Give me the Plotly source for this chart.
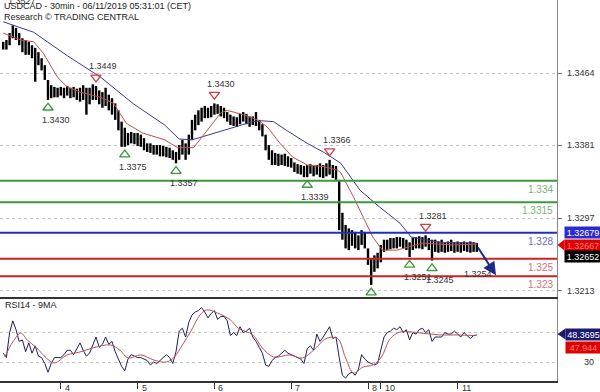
import plotly.graph_objects as go

# ---------------- data ----------------
day_ticks = [37, 85, 133, 181, 229, 237, 285]          # 30-min bar index of day start
day_labels = ["4", "5", "6", "7", "8", "10", "11"]
price_ticks = [1.3464, 1.3381, 1.3297, 1.3213]
rsi_ticks = [30, 50]

bar_high = [1.3500, 1.3502, 1.3510, 1.3519, 1.3516, 1.3510, 1.3504, 1.3502, 1.3500, 1.3496,
            1.3493, 1.3488, 1.3481, 1.3473, 1.3456, 1.3450, 1.3448, 1.3447, 1.3448, 1.3447,
            1.3449, 1.3447, 1.3448, 1.3446, 1.3447, 1.3450, 1.3447, 1.3447, 1.3451, 1.3449,
            1.3444, 1.3442, 1.3447, 1.3439, 1.3435, 1.3429, 1.3421, 1.3408, 1.3401, 1.3395,
            1.3396, 1.3395, 1.3395, 1.3393, 1.3389, 1.3383, 1.3383, 1.3381, 1.3381, 1.3381,
            1.3380, 1.3379, 1.3378, 1.3375, 1.3373, 1.3381, 1.3387, 1.3383, 1.3393, 1.3410,
            1.3416, 1.3421, 1.3424, 1.3426, 1.3424, 1.3426, 1.3429, 1.3428, 1.3426, 1.3424,
            1.3419, 1.3416, 1.3414, 1.3413, 1.3417, 1.3419, 1.3417, 1.3414, 1.3414, 1.3419,
            1.3410, 1.3405, 1.3393, 1.3381, 1.3375, 1.3372, 1.3371, 1.3370, 1.3371, 1.3368,
            1.3366, 1.3361, 1.3359, 1.3358, 1.3357, 1.3358, 1.3359, 1.3357, 1.3358, 1.3360,
            1.3358, 1.3360, 1.3364, 1.3358, 1.3357, 1.3341, 1.3303, 1.3289, 1.3285, 1.3283,
            1.3281, 1.3277, 1.3283, 1.3281, 1.3262, 1.3251, 1.3254, 1.3257, 1.3266, 1.3272,
            1.3272, 1.3274, 1.3274, 1.3275, 1.3275, 1.3274, 1.3272, 1.3269, 1.3274, 1.3275,
            1.3276, 1.3275, 1.3277, 1.3274, 1.3272, 1.3272, 1.3270, 1.3272, 1.3269, 1.3270,
            1.3272, 1.3269, 1.3270, 1.3269, 1.3270, 1.3269, 1.3270, 1.3269, 1.3268]
bar_low = [1.3491, 1.3491, 1.3496, 1.3504, 1.3502, 1.3496, 1.3488, 1.3485, 1.3485, 1.3481,
           1.3454, 1.3473, 1.3467, 1.3456, 1.3433, 1.3435, 1.3436, 1.3436, 1.3438, 1.3435,
           1.3438, 1.3435, 1.3436, 1.3433, 1.3431, 1.3433, 1.3416, 1.3428, 1.3433, 1.3433,
           1.3428, 1.3424, 1.3426, 1.3421, 1.3416, 1.3410, 1.3398, 1.3379, 1.3379, 1.3381,
           1.3383, 1.3382, 1.3380, 1.3379, 1.3375, 1.3373, 1.3372, 1.3370, 1.3370, 1.3368,
           1.3368, 1.3367, 1.3366, 1.3364, 1.3360, 1.3364, 1.3370, 1.3364, 1.3370, 1.3387,
           1.3398, 1.3404, 1.3408, 1.3412, 1.3412, 1.3413, 1.3416, 1.3417, 1.3414, 1.3412,
           1.3408, 1.3404, 1.3403, 1.3402, 1.3405, 1.3408, 1.3405, 1.3402, 1.3404, 1.3403,
           1.3398, 1.3391, 1.3375, 1.3364, 1.3358, 1.3358, 1.3357, 1.3358, 1.3357, 1.3356,
           1.3355, 1.3350, 1.3348, 1.3347, 1.3344, 1.3344, 1.3348, 1.3345, 1.3347, 1.3344,
           1.3343, 1.3345, 1.3347, 1.3343, 1.3341, 1.3283, 1.3272, 1.3262, 1.3260, 1.3265,
           1.3262, 1.3260, 1.3266, 1.3262, 1.3243, 1.3220, 1.3235, 1.3239, 1.3246, 1.3258,
           1.3260, 1.3261, 1.3262, 1.3262, 1.3264, 1.3262, 1.3260, 1.3252, 1.3260, 1.3262,
           1.3262, 1.3261, 1.3264, 1.3260, 1.3248, 1.3258, 1.3257, 1.3258, 1.3257, 1.3258,
           1.3259, 1.3257, 1.3258, 1.3257, 1.3259, 1.3258, 1.3257, 1.3258, 1.3258]

ma_fast_x = [1, 12, 20, 26, 35, 41, 49, 62, 70, 78, 88, 102, 110, 120, 137, 141, 151, 160, 166, 174,
             182, 191, 202, 210, 212, 220, 226, 232, 238, 247, 255, 263, 282, 297]
ma_fast_y = [1.3510, 1.3502, 1.3500, 1.3487, 1.3459, 1.3448, 1.3442, 1.3436, 1.3429, 1.3406,
             1.3395, 1.3387, 1.3378, 1.3378, 1.3418, 1.3421, 1.3416, 1.3410, 1.3402, 1.3383,
             1.3367, 1.3358, 1.3356, 1.3352, 1.3349, 1.3321, 1.3298, 1.3275, 1.3260, 1.3260,
             1.3264, 1.3268, 1.3266, 1.32667]
ma_slow_x = [1, 20, 41, 62, 82, 102, 111, 119, 157, 162, 170, 178, 191, 202, 212, 224, 236, 249,
             256, 274, 297]
ma_slow_y = [1.3523, 1.3511, 1.3484, 1.3459, 1.3429, 1.3404, 1.3388, 1.3387, 1.3408, 1.3409,
             1.3408, 1.3398, 1.3383, 1.3372, 1.3360, 1.3329, 1.3310, 1.3291, 1.3275, 1.3269,
             1.32679]

rsi = [36, 33, 50, 58, 52, 44, 45, 37, 43, 36,
       41, 34, 33, 29, 23, 29, 33, 33, 33, 35,
       38, 38, 35, 39, 43, 38, 34, 36, 42, 47,
       40, 42, 47, 42, 44, 37, 32, 27, 24, 32,
       35, 34, 33, 33, 32, 31, 28, 30, 29, 31,
       33, 35, 33, 29, 37, 51, 53, 47, 57, 62,
       64, 65, 67, 64, 60, 63, 65, 59, 61, 61,
       58, 48, 50, 48, 54, 50, 51, 53, 47, 44,
       40, 36, 28, 27, 31, 33, 34, 36, 38, 36,
       35, 34, 33, 32, 29, 39, 41, 38, 49, 44,
       47, 51, 54, 46, 47, 33, 21, 19, 22, 23,
       21, 25, 35, 32, 30, 29, 28, 29, 39, 47,
       50, 51, 53, 52, 54, 50, 52, 45, 50, 49,
       52, 53, 50, 52, 44, 47, 47, 47, 50, 49,
       49, 51, 49, 47, 50, 48, 46, 48, 48.3695]
rsi_ma_x = [2, 7, 12, 16, 22, 28, 33, 41, 49, 57, 68, 74, 79, 87, 95, 103, 108, 113, 118, 124,
            128, 135, 143, 148, 157, 163, 170, 180, 188, 195, 203, 210, 215, 220, 226, 232, 237,
            243, 249, 262, 274, 285, 296]
rsi_ma_y = [33.4, 43.6, 49.7, 45, 39.5, 32.7, 29.3, 34.8, 36.8, 39.5, 41.6, 38, 32.7, 34.8, 31.4,
            30, 33.4, 41.6, 50.4, 62, 65.4, 63.3, 58.6, 53, 48.4, 39.5, 33.4, 34.8, 32.7, 38,
            46, 46, 32.7, 22.5, 26.6, 28, 32.7, 46, 50.4, 49.7, 48.4, 48.4, 47.944]

pivot_low_x = [29, 77, 109, 191, 231, 255, 269]
pivot_low_p = [1.3433, 1.3379, 1.3360, 1.3344, 1.3220, 1.3252, 1.3248]
pivot_low_txt = ["1.3430", "1.3375", "1.3357", "1.3339", "", "1.3251", "1.3245"]
pivot_high_x = [59, 133, 205, 265]
pivot_high_p = [1.3449, 1.3429, 1.3364, 1.3277]
pivot_high_txt = ["1.3449", "1.3430", "1.3366", "1.3281"]
top_label = "1.3527"

levels_green = [1.334, 1.3315]
levels_blue = [1.328]
levels_red = [1.325, 1.323]

forecast_from = (297, 1.3265)
forecast_to = (309, 1.3231)
forecast_txt = "1.3254"

last_close = 1.32652
ma_slow_last = 1.32679
ma_fast_last = 1.32667
rsi_last = 48.3695
rsi_ma_last = 47.944

# ---------------- geometry helpers ----------------
PW, PH = 557, 381
def px_x(x):
    return x / PW
def px_y(y):
    return (PH - y) / PH

X_RANGE = [-1, 347.125]
P_RANGE = [1.32037, 1.35481]
R_RANGE = [17.07, 72.86]
NARROW = "Liberation Sans Narrow, Arial Narrow, Liberation Sans, Arial, sans-serif"
REG = "Liberation Sans, Arial, sans-serif"

bx = [2 * j + 1 for j in range(len(bar_high))]
seg_x, seg_y = [], []
for x, h, l in zip(bx, bar_high, bar_low):
    seg_x += [x, x, None]
    seg_y += [l, h, None]

fig = go.Figure()
fig.add_trace(go.Scatter(x=seg_x, y=seg_y, mode="lines", line=dict(color="#000000", width=2.4),
                         hoverinfo="skip", xaxis="x", yaxis="y"))
fig.add_trace(go.Scatter(x=ma_slow_x, y=ma_slow_y, mode="lines", line=dict(color="#3b3b8c", width=1),
                         xaxis="x", yaxis="y"))
fig.add_trace(go.Scatter(x=ma_fast_x, y=ma_fast_y, mode="lines", line=dict(color="#c0504d", width=1),
                         xaxis="x", yaxis="y"))
fig.add_trace(go.Scatter(x=pivot_low_x, y=[p - 0.0009 for p in pivot_low_p], mode="markers",
                         marker=dict(symbol="triangle-up-open", size=9, color="#3c9a3c",
                                     line=dict(width=1.3, color="#3c9a3c")),
                         xaxis="x", yaxis="y"))
fig.add_trace(go.Scatter(x=pivot_high_x, y=[p + 0.0010 for p in pivot_high_p], mode="markers",
                         marker=dict(symbol="triangle-down-open", size=9, color="#c84444",
                                     line=dict(width=1.3, color="#c84444")),
                         xaxis="x", yaxis="y"))
fig.add_trace(go.Scatter(x=bx, y=rsi, mode="lines", line=dict(color="#1e1e5a", width=1),
                         xaxis="x2", yaxis="y2"))
fig.add_trace(go.Scatter(x=rsi_ma_x, y=rsi_ma_y, mode="lines",
                         line=dict(color="#b85555", width=1, shape="spline"),
                         xaxis="x2", yaxis="y2"))

shapes = []
ann = []

def level(v, lc, tc):
    shapes.append(dict(type="line", xref="paper", x0=0, x1=1, yref="y", y0=v, y1=v,
                       line=dict(color=lc, width=2)))
    ann.append(dict(xref="paper", x=1, xanchor="right", xshift=-2, yref="y", y=v,
                    yanchor="top", yshift=-1, text=f"{v:g}", showarrow=False,
                    font=dict(family=NARROW, size=10, color=tc)))

for v in levels_green:
    level(v, "#3c9a3c", "#78b478")
for v in levels_blue:
    level(v, "#1f2fb8", "#6a6ac0")
for v in levels_red:
    level(v, "#cc2222", "#d87070")

for x, p, t in zip(pivot_low_x, pivot_low_p, pivot_low_txt):
    if t:
        ann.append(dict(x=x, y=p - 0.0009, xref="x", yref="y", text=t, showarrow=False,
                        xshift=8, yshift=-12, font=dict(family=NARROW, size=9, color="#333")))
for x, p, t in zip(pivot_high_x, pivot_high_p, pivot_high_txt):
    ann.append(dict(x=x, y=p + 0.0010, xref="x", yref="y", text=t, showarrow=False,
                    xshift=7, yshift=11, font=dict(family=NARROW, size=9, color="#333")))
ann.append(dict(x=13, y=max(bar_high), xref="x", yref="y", text=top_label, showarrow=False,
                yshift=24, font=dict(family=NARROW, size=9, color="#333")))

# forecast arrow
ann.append(dict(x=forecast_to[0], y=forecast_to[1], ax=forecast_from[0], ay=forecast_from[1],
                xref="x", yref="y", axref="x", ayref="y", text="", showarrow=True,
                arrowhead=2, arrowsize=1.3, arrowwidth=2, arrowcolor="#1a2a8a"))
ann.append(dict(x=forecast_to[0], y=forecast_to[1], xref="x", yref="y", text=forecast_txt,
                showarrow=False, xshift=-18, yshift=1,
                font=dict(family=NARROW, size=9, color="#333")))

# titles
ann.append(dict(xref="paper", yref="paper", x=px_x(2), y=px_y(6), xanchor="left", yanchor="middle",
                text="USDCAD - 30min - 06/11/2019 05:31:01 (CET)", showarrow=False,
                font=dict(family=NARROW, size=9, color="#222")))
ann.append(dict(xref="paper", yref="paper", x=px_x(2), y=px_y(17), xanchor="left", yanchor="middle",
                text="Research © TRADING CENTRAL", showarrow=False,
                font=dict(family=NARROW, size=9, color="#222")))
ann.append(dict(xref="paper", yref="paper", x=px_x(3), y=px_y(305), xanchor="left", yanchor="middle",
                text="RSI14 - 9MA", showarrow=False,
                font=dict(family=NARROW, size=9, color="#222")))

# right axis labels
for v in price_ticks:
    ann.append(dict(xref="paper", x=px_x(597), xanchor="right", yref="y", y=v, yanchor="middle",
                    text=f"{v:.4f}", showarrow=False, font=dict(family=REG, size=9, color="#333")))
ann.append(dict(xref="paper", x=px_x(596), xanchor="right", yref="y2", y=30, yanchor="middle",
                text="30", showarrow=False, font=dict(family=REG, size=9, color="#333")))

# day labels
for t, lab in zip(day_ticks, day_labels):
    ann.append(dict(xref="x2", x=t, yref="paper", y=0, xanchor="left", yanchor="top",
                    xshift=2, yshift=0, text=lab, showarrow=False,
                    font=dict(family=REG, size=9, color="#333")))

# value tags
def tag(text, ypx, bg, fg, pointer=False, x0=564):
    ann.append(dict(xref="paper", yref="paper", x=px_x(x0), y=px_y(ypx), xanchor="left",
                    yanchor="middle", text=text, showarrow=False, bgcolor=bg, borderpad=1,
                    width=600 - x0 - 2, height=9,
                    font=dict(family=REG, size=9, color=fg)))
    if pointer:
        shapes.append(dict(type="path", xref="paper", yref="paper",
                           path=f"M {px_x(557.5)},{px_y(ypx)} L {px_x(x0 + 0.5)},{px_y(ypx - 5.5)} "
                                f"L {px_x(x0 + 0.5)},{px_y(ypx + 5.5)} Z",
                           fillcolor=bg, line=dict(width=0)))

tag(f"{ma_slow_last:.5f}", 233, "#2a2ad0", "#ffffff")
tag(f"{ma_fast_last:.5f}", 245, "#e00000", "#f08080", pointer=True)
tag(f"{last_close:.5f}", 256, "#000000", "#ffffff")
tag(f"{rsi_last:.4f}", 334, "#1a1a70", "#ffffff", pointer=True, x0=565)
tag(f"{rsi_ma_last:g}", 347, "#e00000", "#f08080", x0=565)

fig.update_layout(
    width=600, height=392, margin=dict(l=0, r=43, t=0, b=11),
    paper_bgcolor="white", plot_bgcolor="white", showlegend=False, hovermode=False,
    xaxis=dict(domain=[0, 1], range=X_RANGE, anchor="y", showticklabels=False, showgrid=False,
               zeroline=False, ticks="", showline=False),
    yaxis=dict(domain=[px_y(299), 1], range=P_RANGE, anchor="x", side="right",
               tickvals=price_ticks, showticklabels=False, ticks="outside", ticklen=4,
               tickcolor="#777", showgrid=True, gridcolor="#c4c4c4", griddash="dot",
               showline=True, linecolor="#888", zeroline=False),
    xaxis2=dict(domain=[0, 1], range=X_RANGE, anchor="y2", tickvals=day_ticks,
                showticklabels=False, ticks="outside", ticklen=6, tickcolor="#333",
                showline=True, mirror=True, linecolor="#333", linewidth=1.5,
                showgrid=False, zeroline=False),
    yaxis2=dict(domain=[0, px_y(299)], range=R_RANGE, anchor="x2", side="right",
                tickvals=rsi_ticks, showticklabels=False, ticks="", showgrid=True,
                gridcolor="#c4c4c4", griddash="dot", showline=True, linecolor="#888",
                zeroline=False),
    shapes=shapes, annotations=ann,
)

fig.write_html("out.html")
